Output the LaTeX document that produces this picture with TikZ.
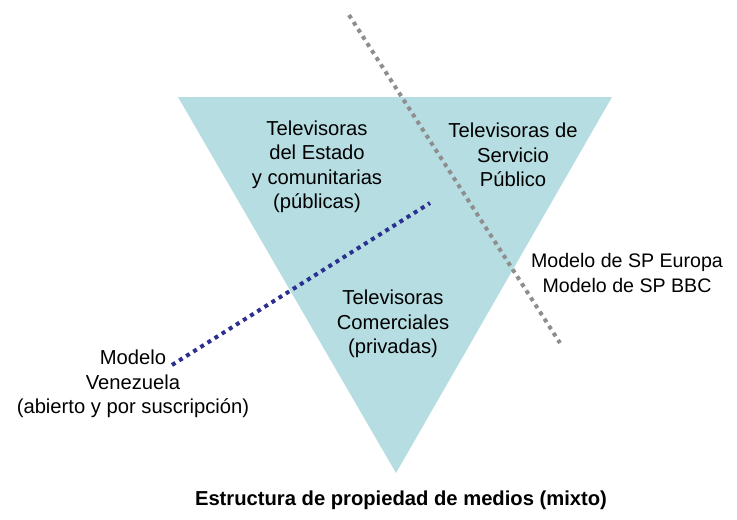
\documentclass[tikz,border=0pt]{standalone}
\usepackage{fontspec}
\setmainfont{Liberation Sans}
\definecolor{trifill}{HTML}{B6DDE1}
\definecolor{graydot}{HTML}{8E8E8E}
\definecolor{bluedot}{HTML}{2B2F8F}
\begin{document}
\begin{tikzpicture}[x=0.5pt,y=-0.5pt,
  lbl/.style={align=center,font=\fontsize{10.1pt}{12.25pt}\selectfont,inner sep=0pt},
  dotline/.style={line width=2pt,dash pattern=on 2pt off 2.2pt}]
\useasboundingbox (0,0) rectangle (737,519);
\fill[trifill] (178,97) -- (612,97) -- (396,473) -- cycle;
\coordinate (g1) at (349,15);
\coordinate (g2) at (560,343);
\coordinate (b1) at (172,365);
\coordinate (b2) at (430,203);
\draw[dotline,graydot] (g1) -- (g2);
\draw[dotline,bluedot] (b1) -- (b2);
\node[lbl] (estado) at (317,167) {Televisoras\\del Estado\\y comunitarias\\(públicas)};
\node[lbl] (servicio) at (513,155) {Televisoras de\\Servicio\\Público};
\node[lbl,font=\fontsize{9.8pt}{12.25pt}\selectfont] (europa) at (627,273) {Modelo de SP Europa\\Modelo de SP BBC};
\node[lbl] (comerciales) at (393,324) {Televisoras\\Comerciales\\(privadas)};
\node[lbl] (venezuela) at (133,384) {Modelo\\Venezuela\\(abierto y por suscripción)};
\node[lbl,font=\fontsize{10.1pt}{12.25pt}\selectfont\bfseries] (title) at (401,500) {Estructura de propiedad de medios (mixto)};
\end{tikzpicture}
\end{document}
